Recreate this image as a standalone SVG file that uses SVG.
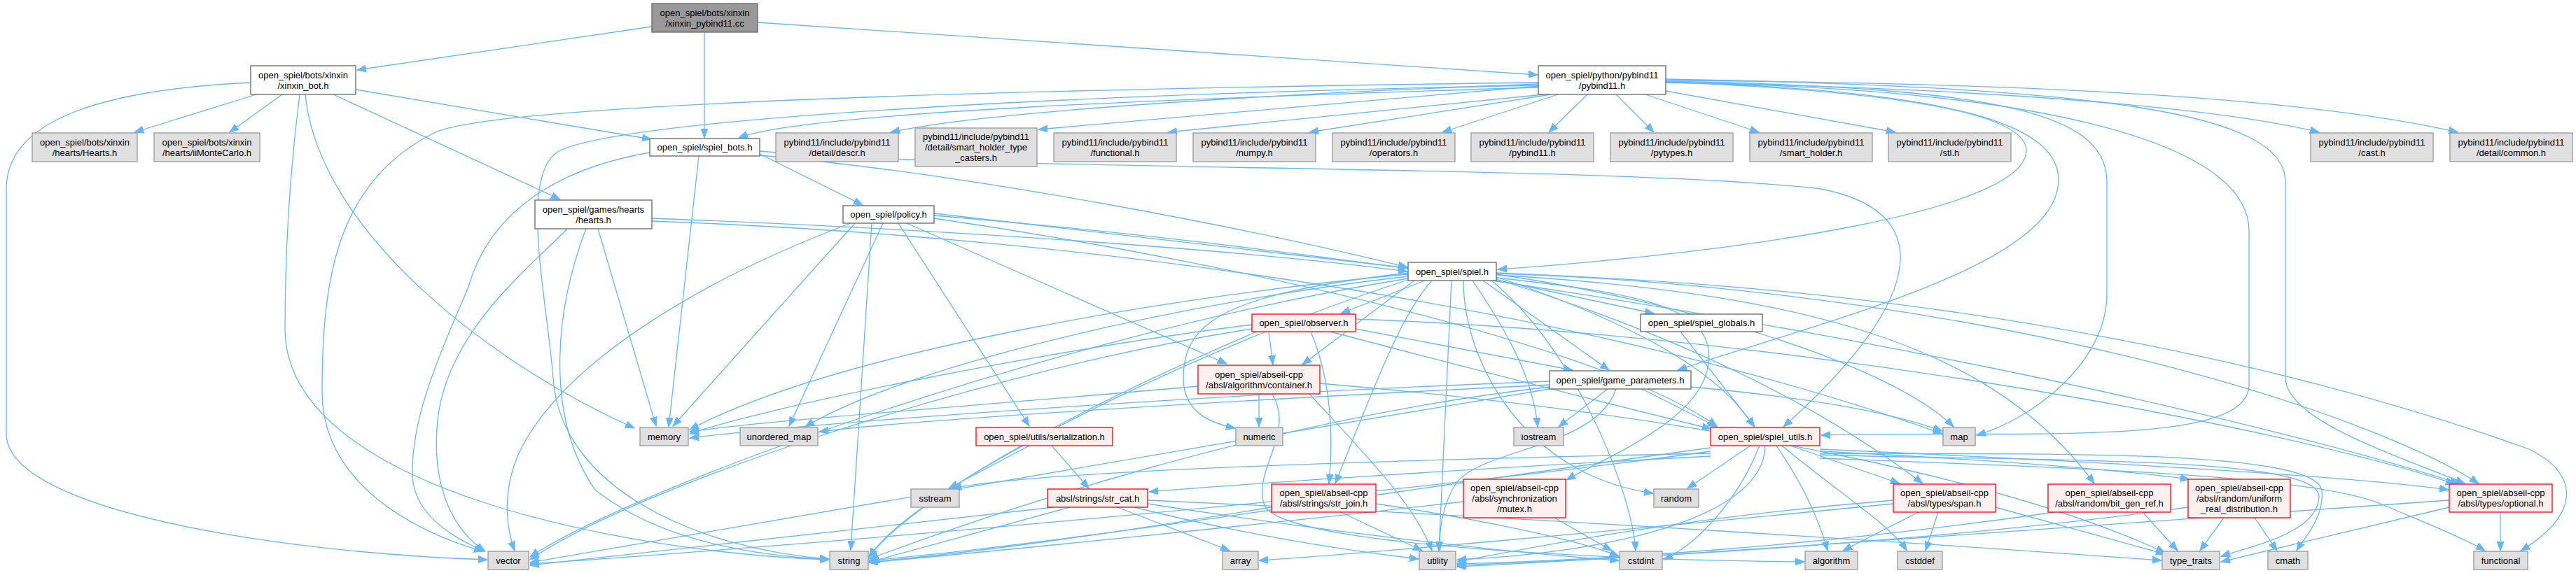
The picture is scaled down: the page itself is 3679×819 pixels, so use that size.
<svg xmlns="http://www.w3.org/2000/svg" width="3679" height="819" viewBox="0 0 3679 819">
<defs>
<style>
.nd rect{stroke-width:1.3}
.w rect{fill:#ffffff;stroke:#666666}
.g rect{fill:#e0e0e0;stroke:#999999}
.r rect{fill:#fff0f0;stroke:#ff0000}
.rt rect{fill:#999999;stroke:#666666}
.nd text{font-family:'Liberation Sans',Arial,sans-serif;font-size:13px;text-anchor:middle;fill:#000000}
#edges path{fill:none;stroke:#63b8ff;stroke-width:1.3;marker-end:url(#ah)}
</style>
<marker id="ah" markerUnits="userSpaceOnUse" markerWidth="14" markerHeight="11" refX="13" refY="5.5" orient="auto" viewBox="0 0 14 11">
<path d="M0,0.5 L13,5.5 L0,10.5 Z" fill="#63b8ff" stroke="#63b8ff" stroke-width="1"/>
</marker>
</defs>
<rect x="0" y="0" width="3679" height="819" fill="#ffffff"/>
<g id="edges">
<path d="M931,38 L510,100"/>
<path d="M1006,46 L1006,197"/>
<path d="M1082,32 L2196,107"/>
<path d="M366,135 L192,189"/>
<path d="M403,135 L328,189"/>
<path d="M508,128 L930,199"/>
<path d="M476,135 L800,285"/>
<path d="M436,135 C455,330 700,520 906,612"/>
<path d="M428,135 C412,260 407,380 407,470 C407,700 900,790 1184,800"/>
<path d="M358,118 C150,128 9,170 9,270 L9,620 C9,730 400,790 696,800"/>
<path d="M2197,125 C1700,140 1150,160 1055,197"/>
<path d="M2197,120 C1800,135 1400,160 1272,189"/>
<path d="M2197,123 L1483,185"/>
<path d="M2205,135 L1668,189"/>
<path d="M2215,135 L1870,189"/>
<path d="M2225,135 L2060,189"/>
<path d="M2267,135 L2212,189"/>
<path d="M2308,135 L2362,189"/>
<path d="M2350,135 L2512,189"/>
<path d="M2379,130 L2707,189"/>
<path d="M2379,118 C2800,125 3150,150 3312,189"/>
<path d="M2379,115 C2900,118 3300,140 3510,189"/>
<path d="M2379,117 C2700,130 2894,160 2894,215 C2894,300 2500,360 2139,385"/>
<path d="M2379,117 C2800,130 2940,180 2940,257 C2940,380 2600,460 2396,529"/>
<path d="M2379,116 C2850,125 3009,160 3009,260 L3009,420 C3009,520 2900,600 2823,622"/>
<path d="M2379,118 C2900,125 3212,200 3212,330 L3212,550 C3212,640 2900,615 2601,622"/>
<path d="M2379,113 C3000,125 3264,160 3264,260 L3264,540 C3264,600 3420,650 3520,691"/>
<path d="M2197,118 C1400,128 700,150 620,190 C480,260 460,400 460,560 C460,690 590,760 690,788"/>
<path d="M2197,122 C1500,135 900,170 800,215 C740,245 780,420 790,540 C800,700 1000,785 1184,799"/>
<path d="M998,223 L955,610"/>
<path d="M928,218 C800,240 700,300 669,410 C640,480 581,600 590,690 C598,740 650,770 692,788"/>
<path d="M1085,220 L1232,293"/>
<path d="M1085,222 C1400,250 1800,330 2010,382"/>
<path d="M1085,216 C1400,245 2300,235 2600,270 C2760,300 2760,420 2547,610"/>
<path d="M854,327 L937,609"/>
<path d="M810,327 C760,380 640,470 625,600 C615,700 650,760 693,788"/>
<path d="M837,327 C790,450 780,600 850,700 C950,780 1100,795 1184,800"/>
<path d="M931,312 C1400,330 1800,360 2010,388"/>
<path d="M931,316 C1600,340 2300,450 2774,620"/>
<path d="M1221,319 L961,609"/>
<path d="M1215,319 C1000,400 800,520 740,650 C715,710 725,760 735,787"/>
<path d="M1245,319 L1215,786"/>
<path d="M1261,319 L1127,609"/>
<path d="M1283,319 L1470,609"/>
<path d="M1295,319 L1752,520"/>
<path d="M1334,305 L2010,383"/>
<path d="M1334,312 C1800,380 2300,500 2452,609"/>
<path d="M1334,308 C2200,380 3100,560 3512,691"/>
<path d="M2035,401 L1915,448"/>
<path d="M2137,400 L2362,448"/>
<path d="M2020,401 L1860,521"/>
<path d="M2118,401 L2298,529"/>
<path d="M2011,392 C1700,420 1200,500 985,614"/>
<path d="M2011,395 C1700,430 1300,520 1150,610"/>
<path d="M2103,401 C2150,470 2190,540 2196,610"/>
<path d="M2137,396 C2300,450 2450,520 2505,610"/>
<path d="M2137,392 C2400,430 2700,520 2790,610"/>
<path d="M2045,401 C2000,450 1960,560 1907,691"/>
<path d="M2137,397 C2350,420 2450,440 2440,520 C2430,600 2300,650 2237,686"/>
<path d="M2090,401 C2090,520 2180,680 2361,705"/>
<path d="M2137,399 C2400,480 2600,580 2746,691"/>
<path d="M2137,393 C2600,420 2850,500 2991,691"/>
<path d="M2137,390 C2900,420 3400,600 3540,691"/>
<path d="M2011,398 C1500,480 900,700 757,796"/>
<path d="M2011,400 C1700,500 1300,700 1241,797"/>
<path d="M2073,401 L2055,787"/>
<path d="M2130,401 C2250,500 2330,700 2336,787"/>
<path d="M2137,391 C2800,410 3300,530 3612,642 C3690,680 3680,740 3600,787"/>
<path d="M2011,390 C1750,420 1690,460 1690,540 C1690,590 1730,605 1764,612"/>
<path d="M1812,474 L1818,521"/>
<path d="M1936,470 L2246,529"/>
<path d="M1872,474 C1900,540 1905,620 1898,691"/>
<path d="M1900,474 C2150,540 2350,590 2444,613"/>
<path d="M1788,464 C1500,500 1100,580 985,620"/>
<path d="M1788,470 C1400,530 900,700 757,800"/>
<path d="M1795,474 C1500,600 1300,720 1241,796"/>
<path d="M1936,456 C2600,480 3300,620 3506,692"/>
<path d="M2400,474 L2506,610"/>
<path d="M1798,563 L1798,610"/>
<path d="M1817,563 C1850,620 1790,670 1805,720 C1820,780 2300,800 2577,803"/>
<path d="M1711,552 C1400,580 1100,600 985,617"/>
<path d="M1870,563 C1950,650 2020,720 2045,787"/>
<path d="M1885,548 C2500,600 2900,700 3092,790"/>
<path d="M2296,556 L2226,610"/>
<path d="M2308,556 C2280,640 2120,640 2080,690 C2060,720 2055,760 2056,787"/>
<path d="M2345,556 L2452,610"/>
<path d="M2415,553 C2600,570 2700,590 2774,616"/>
<path d="M2213,545 C1800,560 1200,600 985,626"/>
<path d="M2213,550 C1800,570 1300,600 1170,617"/>
<path d="M2213,553 C1800,600 1400,740 1241,799"/>
<path d="M2213,556 C1700,640 1000,760 757,804"/>
<path d="M1470,637 L1355,698"/>
<path d="M1502,637 L1555,698"/>
<path d="M2537,637 C2580,700 2600,750 2610,787"/>
<path d="M2545,637 C2620,700 2700,750 2723,787"/>
<path d="M2557,637 L2713,691"/>
<path d="M2500,637 L2410,698"/>
<path d="M2513,637 C2480,720 2420,780 2376,800"/>
<path d="M2521,637 C2520,740 2300,790 2081,800"/>
<path d="M2443,640 C2000,700 1500,780 1241,801"/>
<path d="M2443,645 C1900,720 1000,790 757,806"/>
<path d="M2443,648 C2100,655 1500,670 1360,698"/>
<path d="M2443,652 C2100,670 1800,690 1641,703"/>
<path d="M2599,645 C2900,660 3050,675 3127,685"/>
<path d="M2599,642 C3000,660 3350,680 3497,700"/>
<path d="M2599,650 C2900,660 3310,650 3312,709 C3312,760 3220,780 3172,795"/>
<path d="M2599,648 C2900,650 3300,640 3316,700 C3320,740 3290,770 3280,787"/>
<path d="M2599,655 C3000,670 3300,680 3400,720 C3470,750 3520,770 3549,787"/>
<path d="M1596,725 L1756,787"/>
<path d="M1528,725 L1243,803"/>
<path d="M1505,725 C1200,760 900,790 757,808"/>
<path d="M1639,720 C1900,760 2150,790 2312,801"/>
<path d="M1639,715 C2200,740 2800,780 3087,801"/>
<path d="M1620,725 C1800,770 1950,790 2026,799"/>
<path d="M1915,732 L2031,787"/>
<path d="M1816,725 C1600,760 1400,790 1241,803"/>
<path d="M1965,720 C2100,740 2250,770 2312,795"/>
<path d="M2220,740 L2302,787"/>
<path d="M2090,717 C1800,750 1400,790 1241,804"/>
<path d="M2740,732 L2632,787"/>
<path d="M2768,732 L2750,787"/>
<path d="M2850,725 L3092,792"/>
<path d="M2704,715 C2400,740 2200,780 2081,803"/>
<path d="M2704,720 C2300,760 1900,795 1798,801"/>
<path d="M3060,732 L3110,787"/>
<path d="M2935,732 C2600,780 2300,800 2081,806"/>
<path d="M3176,740 L3142,787"/>
<path d="M3220,740 L3252,787"/>
<path d="M3125,725 C2800,770 2400,795 2081,808"/>
<path d="M3571,732 L3571,787"/>
<path d="M3498,725 L3172,803"/>
<path d="M3498,715 C3000,750 2400,795 2081,810"/>
</g>
<g id="n0" class="nd rt"><rect x="931" y="5" width="151" height="41"/><text x="1006.5" y="22.5">open_spiel/bots/xinxin</text><text x="1006.5" y="37.5">/xinxin_pybind11.cc</text></g>
<g id="n1" class="nd w"><rect x="358" y="94" width="150" height="41"/><text x="433" y="111.5">open_spiel/bots/xinxin</text><text x="433" y="126.5">/xinxin_bot.h</text></g>
<g id="n2" class="nd w"><rect x="2197" y="94" width="182" height="41"/><text x="2288" y="111.5">open_spiel/python/pybind11</text><text x="2288" y="126.5">/pybind11.h</text></g>
<g id="n3" class="nd g"><rect x="46" y="190" width="150" height="41"/><text x="121" y="207.5">open_spiel/bots/xinxin</text><text x="121" y="222.5">/hearts/Hearts.h</text></g>
<g id="n4" class="nd g"><rect x="220" y="190" width="151" height="41"/><text x="295.5" y="207.5">open_spiel/bots/xinxin</text><text x="295.5" y="222.5">/hearts/iiMonteCarlo.h</text></g>
<g id="n5" class="nd w"><rect x="928" y="198" width="157" height="25"/><text x="1006.5" y="215">open_spiel/spiel_bots.h</text></g>
<g id="n6" class="nd g"><rect x="1108" y="190" width="175" height="41"/><text x="1195.5" y="207.5">pybind11/include/pybind11</text><text x="1195.5" y="222.5">/detail/descr.h</text></g>
<g id="n7" class="nd g"><rect x="1307" y="183" width="174" height="55"/><text x="1394" y="200">pybind11/include/pybind11</text><text x="1394" y="215">/detail/smart_holder_type</text><text x="1394" y="230">_casters.h</text></g>
<g id="n8" class="nd g"><rect x="1505" y="190" width="175" height="41"/><text x="1592.5" y="207.5">pybind11/include/pybind11</text><text x="1592.5" y="222.5">/functional.h</text></g>
<g id="n9" class="nd g"><rect x="1704" y="190" width="175" height="41"/><text x="1791.5" y="207.5">pybind11/include/pybind11</text><text x="1791.5" y="222.5">/numpy.h</text></g>
<g id="n10" class="nd g"><rect x="1903" y="190" width="175" height="41"/><text x="1990.5" y="207.5">pybind11/include/pybind11</text><text x="1990.5" y="222.5">/operators.h</text></g>
<g id="n11" class="nd g"><rect x="2101" y="190" width="175" height="41"/><text x="2188.5" y="207.5">pybind11/include/pybind11</text><text x="2188.5" y="222.5">/pybind11.h</text></g>
<g id="n12" class="nd g"><rect x="2300" y="190" width="175" height="41"/><text x="2387.5" y="207.5">pybind11/include/pybind11</text><text x="2387.5" y="222.5">/pytypes.h</text></g>
<g id="n13" class="nd g"><rect x="2499" y="190" width="175" height="41"/><text x="2586.5" y="207.5">pybind11/include/pybind11</text><text x="2586.5" y="222.5">/smart_holder.h</text></g>
<g id="n14" class="nd g"><rect x="2697" y="190" width="175" height="41"/><text x="2784.5" y="207.5">pybind11/include/pybind11</text><text x="2784.5" y="222.5">/stl.h</text></g>
<g id="n15" class="nd g"><rect x="3300" y="190" width="175" height="41"/><text x="3387.5" y="207.5">pybind11/include/pybind11</text><text x="3387.5" y="222.5">/cast.h</text></g>
<g id="n16" class="nd g"><rect x="3499" y="190" width="175" height="41"/><text x="3586.5" y="207.5">pybind11/include/pybind11</text><text x="3586.5" y="222.5">/detail/common.h</text></g>
<g id="n17" class="nd w"><rect x="764" y="286" width="167" height="41"/><text x="847.5" y="303.5">open_spiel/games/hearts</text><text x="847.5" y="318.5">/hearts.h</text></g>
<g id="n18" class="nd w"><rect x="1204" y="294" width="130" height="25"/><text x="1269" y="311">open_spiel/policy.h</text></g>
<g id="n19" class="nd w"><rect x="2011" y="375" width="126" height="26"/><text x="2074" y="392.5">open_spiel/spiel.h</text></g>
<g id="n20" class="nd r"><rect x="1788" y="449" width="148" height="25"/><text x="1862" y="466">open_spiel/observer.h</text></g>
<g id="n21" class="nd w"><rect x="2343" y="449" width="174" height="25"/><text x="2430" y="466">open_spiel/spiel_globals.h</text></g>
<g id="n22" class="nd r"><rect x="1711" y="522" width="174" height="41"/><text x="1798" y="539.5">open_spiel/abseil-cpp</text><text x="1798" y="554.5">/absl/algorithm/container.h</text></g>
<g id="n23" class="nd w"><rect x="2213" y="530" width="202" height="26"/><text x="2314" y="547.5">open_spiel/game_parameters.h</text></g>
<g id="n24" class="nd g"><rect x="914" y="611" width="69" height="26"/><text x="948.5" y="628.5">memory</text></g>
<g id="n25" class="nd g"><rect x="1057" y="611" width="111" height="26"/><text x="1112.5" y="628.5">unordered_map</text></g>
<g id="n26" class="nd r"><rect x="1394" y="611" width="195" height="26"/><text x="1491.5" y="628.5">open_spiel/utils/serialization.h</text></g>
<g id="n27" class="nd g"><rect x="1765" y="611" width="67" height="26"/><text x="1798.5" y="628.5">numeric</text></g>
<g id="n28" class="nd g"><rect x="2162" y="611" width="71" height="26"/><text x="2197.5" y="628.5">iostream</text></g>
<g id="n29" class="nd r"><rect x="2443" y="611" width="156" height="26"/><text x="2521" y="628.5">open_spiel/spiel_utils.h</text></g>
<g id="n30" class="nd g"><rect x="2775" y="611" width="46" height="26"/><text x="2798" y="628.5">map</text></g>
<g id="n31" class="nd g"><rect x="1301" y="699" width="69" height="26"/><text x="1335.5" y="716.5">sstream</text></g>
<g id="n32" class="nd r"><rect x="1496" y="699" width="143" height="26"/><text x="1567.5" y="716.5">absl/strings/str_cat.h</text></g>
<g id="n33" class="nd r"><rect x="1816" y="692" width="149" height="40"/><text x="1890.5" y="709">open_spiel/abseil-cpp</text><text x="1890.5" y="724">/absl/strings/str_join.h</text></g>
<g id="n34" class="nd r"><rect x="2090" y="685" width="146" height="55"/><text x="2163" y="702">open_spiel/abseil-cpp</text><text x="2163" y="717">/absl/synchronization</text><text x="2163" y="732">/mutex.h</text></g>
<g id="n35" class="nd g"><rect x="2362" y="699" width="64" height="26"/><text x="2394" y="716.5">random</text></g>
<g id="n36" class="nd r"><rect x="2704" y="692" width="146" height="40"/><text x="2777" y="709">open_spiel/abseil-cpp</text><text x="2777" y="724">/absl/types/span.h</text></g>
<g id="n37" class="nd r"><rect x="2925" y="692" width="175" height="40"/><text x="3012.5" y="709">open_spiel/abseil-cpp</text><text x="3012.5" y="724">/absl/random/bit_gen_ref.h</text></g>
<g id="n38" class="nd r"><rect x="3125" y="685" width="146" height="55"/><text x="3198" y="702">open_spiel/abseil-cpp</text><text x="3198" y="717">/absl/random/uniform</text><text x="3198" y="732">_real_distribution.h</text></g>
<g id="n39" class="nd r"><rect x="3498" y="692" width="147" height="40"/><text x="3571.5" y="709">open_spiel/abseil-cpp</text><text x="3571.5" y="724">/absl/types/optional.h</text></g>
<g id="n40" class="nd g"><rect x="697" y="788" width="58" height="26"/><text x="726" y="805.5">vector</text></g>
<g id="n41" class="nd g"><rect x="1185" y="788" width="55" height="26"/><text x="1212.5" y="805.5">string</text></g>
<g id="n42" class="nd g"><rect x="1746" y="788" width="51" height="26"/><text x="1771.5" y="805.5">array</text></g>
<g id="n43" class="nd g"><rect x="2027" y="788" width="52" height="26"/><text x="2053" y="805.5">utility</text></g>
<g id="n44" class="nd g"><rect x="2313" y="788" width="61" height="26"/><text x="2343.5" y="805.5">cstdint</text></g>
<g id="n45" class="nd g"><rect x="2578" y="788" width="75" height="26"/><text x="2615.5" y="805.5">algorithm</text></g>
<g id="n46" class="nd g"><rect x="2710" y="788" width="64" height="26"/><text x="2742" y="805.5">cstddef</text></g>
<g id="n47" class="nd g"><rect x="3088" y="788" width="82" height="26"/><text x="3129" y="805.5">type_traits</text></g>
<g id="n48" class="nd g"><rect x="3239" y="788" width="57" height="26"/><text x="3267.5" y="805.5">cmath</text></g>
<g id="n49" class="nd g"><rect x="3533" y="788" width="77" height="26"/><text x="3571.5" y="805.5">functional</text></g>
</svg>
